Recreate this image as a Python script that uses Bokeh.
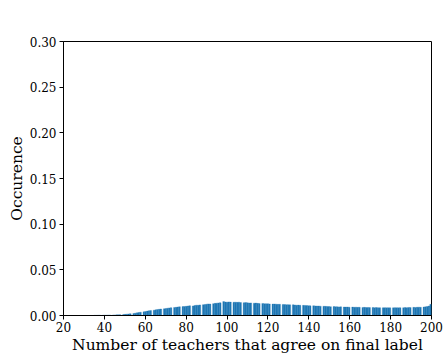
import numpy as np
from bokeh.plotting import figure
from bokeh.models import FixedTicker, NumeralTickFormatter, ColumnDataSource, Range1d
from bokeh.embed import file_html
from bokeh.resources import INLINE

# Number of teachers that agree (integer values) and their occurrence fraction
teachers = list(range(35, 201))
occurrence = [
    0.0002, 0.0002, 0.0003, 0.0003, 0.0003, 0.0004, 0.0004, 0.0005, 0.0005, 0.0006,
    0.0006, 0.0007, 0.0008, 0.0009, 0.0011,
    0.0013, 0.0015, 0.0017, 0.0020, 0.0022, 0.0026, 0.0029, 0.0032, 0.0036, 0.0040,
    0.0044, 0.0048, 0.0052, 0.0055, 0.0058, 0.0062, 0.0065, 0.0068, 0.0071, 0.0074,
    0.0077, 0.0080, 0.0083, 0.0086, 0.0088, 0.0090, 0.0093, 0.0096, 0.0098, 0.0099,
    0.0101, 0.0104, 0.0107, 0.0105, 0.0110, 0.0113, 0.0112, 0.0116, 0.0119, 0.0121,
    0.0124, 0.0127, 0.0125, 0.0130, 0.0133, 0.0135, 0.0138, 0.0140, 0.0152, 0.0148,
    0.0146, 0.0149, 0.0147, 0.0145, 0.0146, 0.0144, 0.0146, 0.0142, 0.0140, 0.0141,
    0.0139, 0.0137, 0.0138, 0.0135, 0.0136, 0.0133, 0.0131, 0.0132, 0.0130, 0.0128,
    0.0129, 0.0127, 0.0125, 0.0126, 0.0124, 0.0122, 0.0123, 0.0121, 0.0120, 0.0118,
    0.0119, 0.0117, 0.0118, 0.0115, 0.0113, 0.0114, 0.0112, 0.0111, 0.0110, 0.0109,
    0.0108, 0.0106, 0.0107, 0.0105, 0.0103, 0.0104, 0.0102, 0.0101, 0.0100, 0.0099,
    0.0098, 0.0097, 0.0098, 0.0096, 0.0095, 0.0094, 0.0095, 0.0093, 0.0092, 0.0093,
    0.0091, 0.0092, 0.0090, 0.0091, 0.0089, 0.0090, 0.0088, 0.0089, 0.0087, 0.0088,
    0.0087, 0.0088, 0.0086, 0.0087, 0.0085, 0.0086, 0.0085, 0.0086, 0.0084, 0.0085,
    0.0085, 0.0084, 0.0086, 0.0085, 0.0084, 0.0086, 0.0085, 0.0087, 0.0086, 0.0088,
    0.0087, 0.0089, 0.0088, 0.0090, 0.0091, 0.0090, 0.0093, 0.0095, 0.0098, 0.0104,
    0.0122,
]
x_ticks = [20, 40, 60, 80, 100, 120, 140, 160, 180, 200]
y_ticks = [0.0, 0.05, 0.10, 0.15, 0.20, 0.25, 0.30]

# histogram bins (200 bins spanning the data range)
edges = np.linspace(34, 200, 201)
t = np.array(teachers, dtype=float)
idx = np.clip(np.searchsorted(edges, t, side="right") - 1, 0, len(edges) - 2)
src = ColumnDataSource(dict(left=edges[idx], right=edges[idx + 1],
                            top=occurrence, bottom=[0] * len(occurrence)))

FONT = "DejaVu Serif"
p = figure(width=444, height=356, output_backend="svg", toolbar_location=None,
           x_range=Range1d(20, 200), y_range=Range1d(0, 0.30),
           min_border_left=63, min_border_right=13, min_border_top=41, min_border_bottom=41)
p.quad(left="left", right="right", top="top", bottom="bottom", source=src,
       fill_color="#1f77b4", line_color="#1f77b4", line_width=0.3)

p.grid.visible = False
p.outline_line_color = "black"
p.outline_line_width = 1
p.background_fill_color = "white"
p.border_fill_color = "white"

p.xaxis.ticker = FixedTicker(ticks=x_ticks)
p.yaxis.ticker = FixedTicker(ticks=y_ticks)
p.yaxis.formatter = NumeralTickFormatter(format="0.00")
for ax in (p.xaxis, p.yaxis):
    ax.minor_tick_line_color = None
    ax.major_tick_out = 4
    ax.major_tick_in = 0
    ax.axis_line_color = "black"
    ax.major_tick_line_color = "black"
    ax.major_label_text_font = FONT
    ax.major_label_text_font_size = "12px"
    ax.major_label_text_color = "black"
    ax.axis_label_text_font = FONT
    ax.axis_label_text_font_size = "15.5px"
    ax.axis_label_text_font_style = "normal"
    ax.axis_label_text_color = "black"
p.xaxis.axis_label = "Number of teachers that agree on final label"
p.yaxis.axis_label = "Occurence"
p.xaxis.major_label_standoff = 2
p.yaxis.major_label_standoff = 3
p.xaxis.axis_label_standoff = 1
p.yaxis.axis_label_standoff = 1

open("out.html", "w").write(file_html(p, INLINE))
